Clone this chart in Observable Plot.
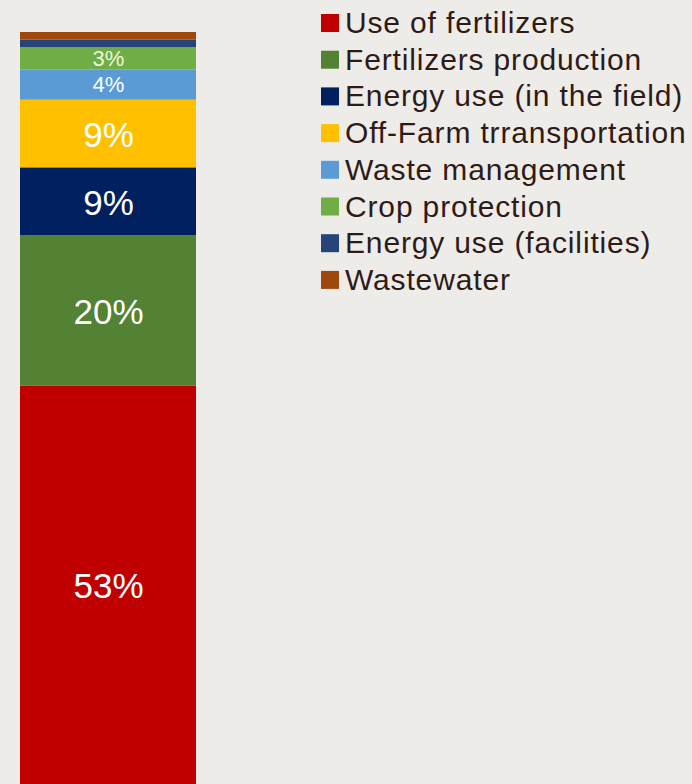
<!DOCTYPE html>
<html>
<head>
<meta charset="utf-8">
<script src="https://cdn.jsdelivr.net/npm/d3@7"></script>
<script src="https://cdn.jsdelivr.net/npm/@observablehq/plot@0.6"></script>
<style>
  html, body { margin: 0; padding: 0; background: #eeece9; }
  #wrap { position: relative; width: 692px; height: 784px; overflow: hidden;
          font-family: "Liberation Sans", Arial, sans-serif; }
  #wrap > svg { position: absolute; left: 0; top: 0; }
</style>
</head>
<body>
<div id="wrap"></div>
<script>
const categories = [
  "Use of fertilizers",
  "Fertilizers production",
  "Energy use (in the field)",
  "Off-Farm trransportation",
  "Waste management",
  "Crop protection",
  "Energy use (facilities)",
  "Wastewater"
];
const values = [53, 20, 9, 9, 4, 3, 1, 1];
const labels = ["53%", "20%", "9%", "9%", "4%", "3%", "", ""];
const colors = ["#c00000", "#548235", "#002060", "#ffc000", "#5b9bd5", "#70ad47", "#264478", "#9e480e"];
const group = "total";

const data = categories.map((c, i) => ({category: c, value: values[i], label: labels[i], group}));

const chart = Plot.plot({
  width: 692,
  height: 784,
  marginTop: 32,
  marginBottom: 0,
  marginLeft: 0,
  marginRight: 0,
  style: {background: "transparent", fontFamily: "'Liberation Sans', Arial, sans-serif"},
  x: {domain: [group], range: [20, 196], padding: 0, axis: null},
  y: {domain: [0, 100], axis: null},
  color: {domain: categories, range: colors},
  marks: [
    Plot.barY(data, Plot.stackY({x: "group", y: "value", fill: "category"})),
    Plot.textY(data, Plot.stackY({x: "group", y: "value",
      text: d => d.value >= 9 ? d.label : "", fill: "white", fontSize: 35, dy: 2})),
    Plot.textY(data, Plot.stackY({x: "group", y: "value",
      text: d => d.value === 4 ? d.label : "", fill: "white", fontSize: 22})),
    Plot.textY(data, Plot.stackY({x: "group", y: "value",
      text: d => d.value === 3 ? d.label : "", fill: "#eef6dc", fontSize: 22}))
  ]
});
document.getElementById("wrap").appendChild(chart);

// Legend (right side)
const legend = d3.select("#wrap").append("svg")
  .attr("width", 692).attr("height", 784)
  .style("pointer-events", "none");
const rows = legend.selectAll("g").data(categories).join("g")
  .attr("transform", (d, i) => `translate(0,${33 + i * 36.7})`);
rows.append("rect")
  .attr("x", 321).attr("y", -19).attr("width", 18).attr("height", 18)
  .attr("fill", (d, i) => colors[i]);
rows.append("text")
  .attr("x", 345).attr("y", 0)
  .attr("font-size", 30)
  .attr("letter-spacing", "0.85px")
  .attr("fill", "#2e1b17")
  .attr("font-family", "'Liberation Sans', Arial, sans-serif")
  .text(d => d);
</script>
</body>
</html>
